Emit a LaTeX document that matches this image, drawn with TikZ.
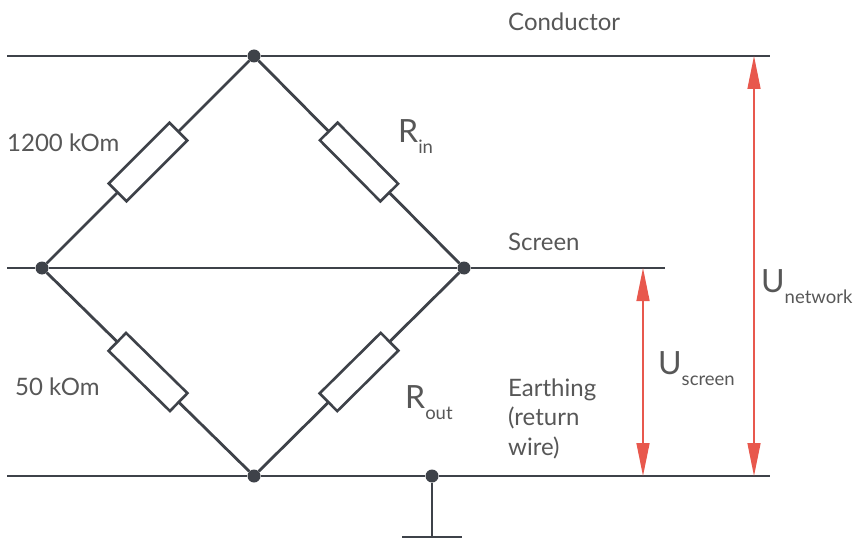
\documentclass[tikz,border=0pt]{standalone}
\usepackage{fontspec}
\setmainfont{Lato}
\usetikzlibrary{arrows.meta}
\definecolor{wire}{HTML}{3E4249}
\definecolor{txt}{HTML}{575757}
\definecolor{volt}{HTML}{E8584D}
\newcommand{\subtxt}[1]{\raisebox{-11pt}{\fontsize{18.5}{22}\selectfont #1}}
\begin{document}
\begin{tikzpicture}[x=1pt,y=-1pt,
 wireline/.style={draw=wire,line width=2.8pt},
 junction/.style={circle,fill=wire,inner sep=0pt,minimum size=13pt},
 resistor/.style={draw=wire,line width=2.6pt,fill=white,rectangle,minimum width=86pt,minimum height=25pt,inner sep=0pt},
 lbl/.style={text=txt,anchor=base west,inner sep=0pt,font=\fontsize{24}{29.5}\selectfont},
 sym/.style={text=txt,anchor=base west,inner sep=0pt,font=\fontsize{32}{36}\selectfont},
 meter/.style={draw=volt,line width=1.5pt,{Triangle[length=33pt,width=13pt]}-{Triangle[length=33pt,width=13pt]}}
]
\useasboundingbox (0,0) rectangle (856,540);
% free wire ends
\coordinate (condL) at (7,56);
\coordinate (condR) at (770,56);
\coordinate (scrL) at (7,268);
\coordinate (scrR) at (665,268);
\coordinate (earL) at (7,476);
\coordinate (earR) at (770,476);
\coordinate (gstem) at (432,537);
\coordinate (gbarL) at (402,537);
\coordinate (gbarR) at (462,537);
% junctions
\node[junction] (top) at (254,56) {};
\node[junction] (left) at (42,268) {};
\node[junction] (right) at (464,268) {};
\node[junction] (bot) at (254,476) {};
\node[junction] (gnd) at (432,476) {};
% horizontal wires
\draw[wireline] (condL) -- (top) -- (condR);
\draw[wireline] (scrL) -- (left) -- (right) -- (scrR);
\draw[wireline] (earL) -- (bot) -- (gnd) -- (earR);
% ground
\draw[wireline] (gnd) -- (gstem);
\draw[wireline] (gbarL) -- (gbarR);
% bridge with resistors
\draw[wireline] (left) -- node[resistor,sloped] (r1) {} (top);
\draw[wireline] (top) -- node[resistor,sloped] (rin) {} (right);
\draw[wireline] (left) -- node[resistor,sloped] (r2) {} (bot);
\draw[wireline] (bot) -- node[resistor,sloped] (rout) {} (right);
% voltage arrows
\coordinate (nTop) at (754,56);
\coordinate (nBot) at (754,476);
\coordinate (sTop) at (643,268);
\coordinate (sBot) at (643,476);
\draw[meter] (nTop) -- (nBot);
\draw[meter] (sTop) -- (sBot);
% labels
\node[lbl] (lcond) at (508,31) {Conductor};
\node[lbl] (lscr) at (508,250) {Screen};
\node[lbl] (l1200) at (7,152) {1200 kOm};
\node[lbl] (l50) at (15,395) {50 kOm};
\node[lbl,align=left] (learth) at (508,455) {Earthing\\(return\\wire)};
\node[sym] (lrin) at (398,143) {R\subtxt{in}};
\node[sym] (lrout) at (405,408) {R\subtxt{out}};
\node[sym] (lus) at (658,374) {U\subtxt{screen}};
\node[sym] (lun) at (761,292) {U\subtxt{network}};
\end{tikzpicture}
\end{document}
